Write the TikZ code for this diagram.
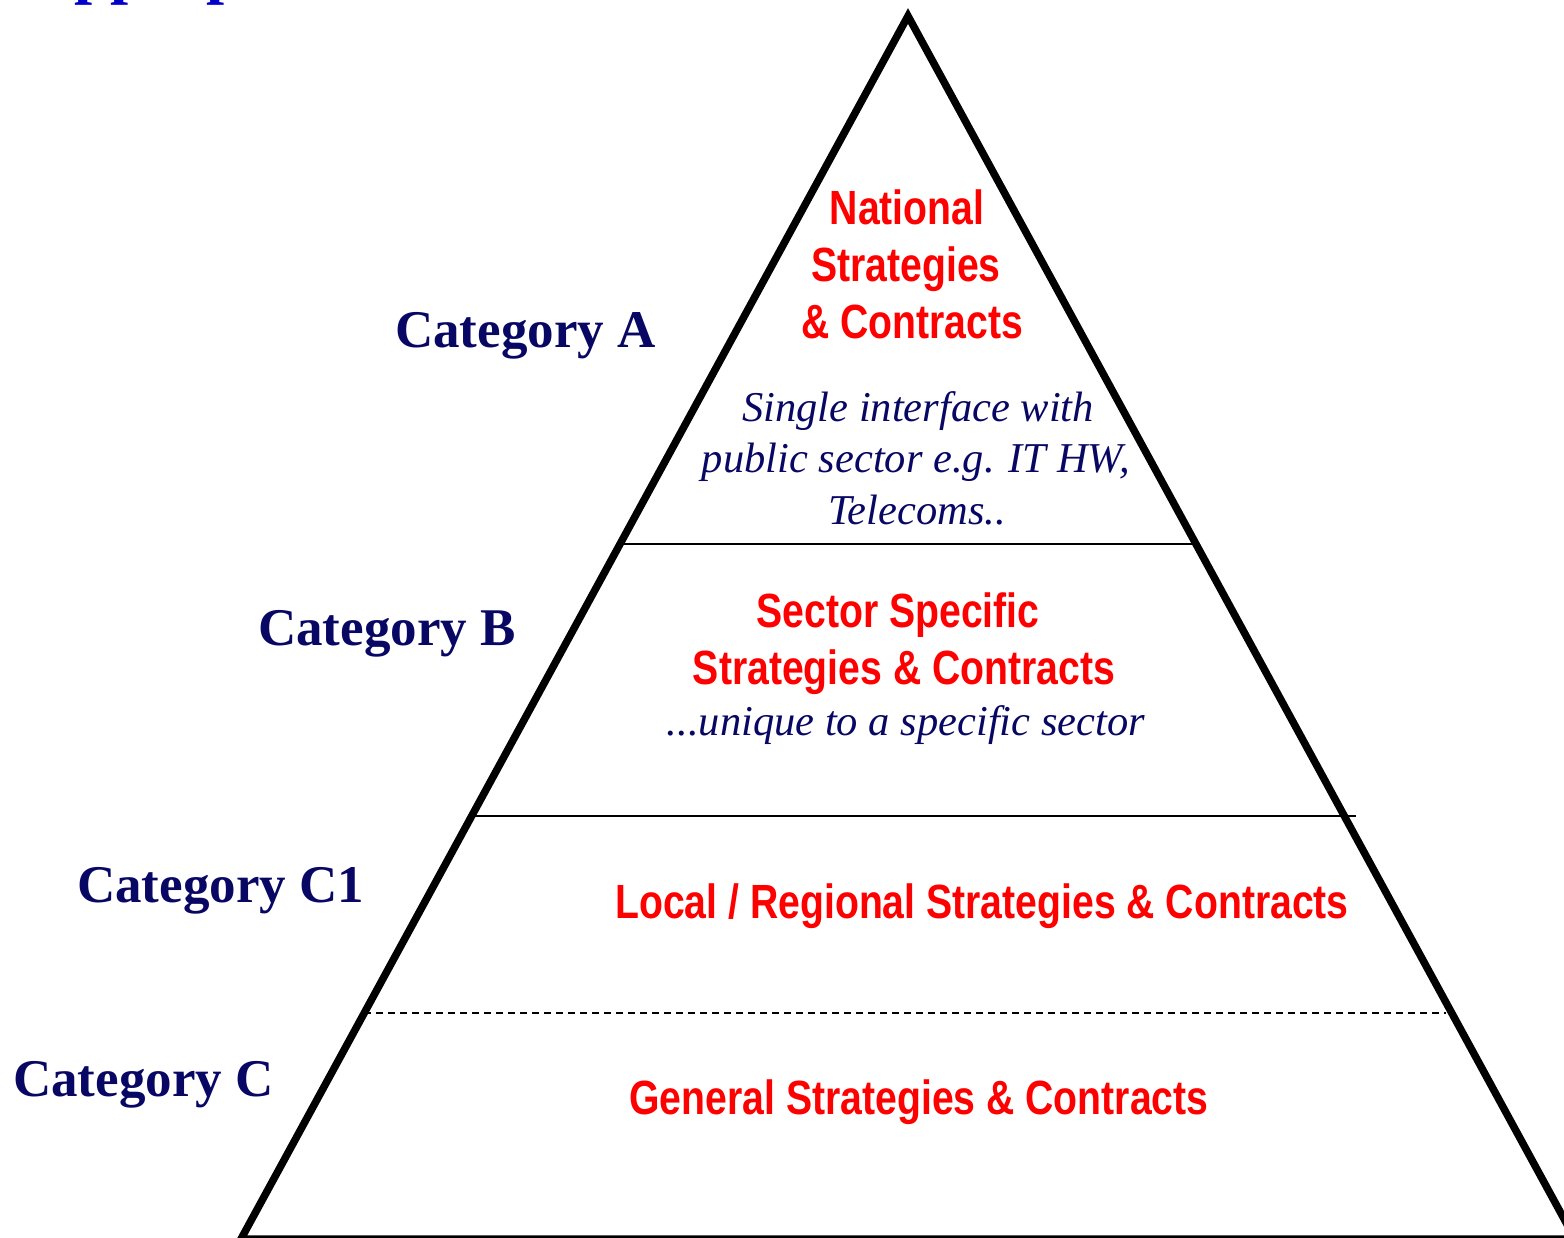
\documentclass[tikz,border=0pt]{standalone}
\usepackage{fontspec}
\setmainfont{Liberation Serif}
\newfontfamily\narrowsans[FakeStretch=0.816]{Liberation Sans}
\usetikzlibrary{calc}
\definecolor{catnavy}{RGB}{8,8,100}
\definecolor{titleblue}{RGB}{0,0,204}

\begin{document}
\begin{tikzpicture}[x=1pt, y=-1pt,
                pyramid/.style={draw=black, line width=7.5pt, line join=miter},
                divider/.style={draw=black, line width=1.6pt},
                catlabel/.style={font=\fontsize{53}{53}\selectfont\bfseries, text=catnavy, anchor=base west, inner sep=0pt},
                tiertitle/.style={font=\narrowsans\bfseries\fontsize{48}{48}\selectfont, text=red, anchor=base, inner sep=0pt},
                tiernote/.style={font=\itshape\fontsize{42.5}{42.5}\selectfont, text=catnavy, anchor=base, inner sep=0pt}
                ]
    \useasboundingbox (0,0) rectangle (1564,1238);

    % Title (cut off by the page edge)
    \node[font=\fontsize{65}{65}\selectfont\bfseries, text=titleblue, anchor=base west, inner sep=0pt] (title) at (27,-8) {Appropriate};

    % Pyramid
    \coordinate (apex) at (908,16);
    \coordinate (bl) at (241,1239);
    \coordinate (br) at (1575,1239);
    \draw[pyramid] (apex) -- (br) -- (bl) -- cycle;

    % Tier boundaries
    \coordinate (ab left) at ($(apex)!0.4317!(bl)$);
    \coordinate (ab right) at ($(apex)!0.4317!(br)$);
    \coordinate (bc left) at ($(apex)!0.654!(bl)$);
    \coordinate (bc right) at ($(apex)!0.654!(br)+(12,0)$);
    \coordinate (cc left) at ($(apex)!0.815!(bl)$);
    \coordinate (cc right) at ($(apex)!0.815!(br)+(-6,0)$);
    \draw[divider] (ab left) -- (ab right);
    \draw[divider] (bc left) -- (bc right);
    \draw[divider, dash pattern=on 7pt off 5pt] (cc left) -- (cc right);

    % Category labels
    \node[catlabel] (cat a) at (395,348) {Category A};
    \node[catlabel] (cat b) at (258,645) {Category B};
    \node[catlabel] (cat c1) at (77,902) {Category C1};
    \node[catlabel] (cat c) at (13,1096) {Category C};

    % Category A
    \node[tiertitle] (nat 1) at (907,225) {National};
    \node[tiertitle] (nat 2) at (906,282) {Strategies};
    \node[tiertitle] (nat 3) at (912,339) {\& Contracts};
    \node[tiernote] (nat note 1) at (918,421) {Single interface with};
    \node[tiernote] (nat note 2) at (916,472) {public sector e.g. IT HW,};
    \node[tiernote] (nat note 3) at (917,524) {Telecoms..};

    % Category B
    \node[tiertitle] (sec 1) at (898,627) {Sector Specific};
    \node[tiertitle] (sec 2) at (904,684) {Strategies \& Contracts};
    \node[tiernote] (sec note) at (906,735) {...unique to a specific sector};

    % Category C1 and C
    \node[tiertitle] (local) at (982,918) {Local / Regional Strategies \& Contracts};
    \node[tiertitle] (general) at (919,1114) {General Strategies \& Contracts};
\end{tikzpicture}
\end{document}
